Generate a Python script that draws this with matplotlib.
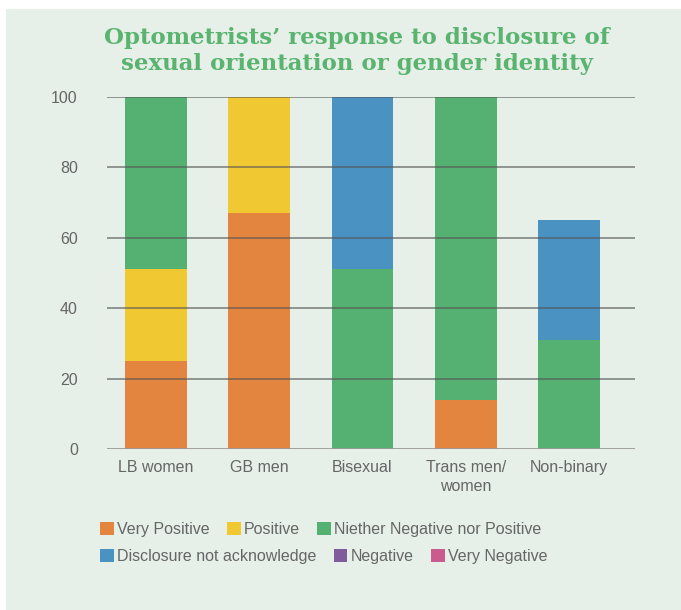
import matplotlib
matplotlib.use("Agg")
import matplotlib.pyplot as plt
from matplotlib.patches import Rectangle

categories = ["LB women", "GB men", "Bisexual", "Trans men/\nwomen", "Non-binary"]
series_names = ["Very Positive", "Positive", "Niether Negative nor Positive",
                "Disclosure not acknowledge", "Negative", "Very Negative"]
very_positive = [25, 67, 0, 14, 0]
positive = [26, 33, 0, 0, 0]
neither = [49, 0, 51, 86, 31]
not_acknowledged = [0, 0, 49, 0, 34]
negative = [0, 0, 0, 0, 0]
very_negative = [0, 0, 0, 0, 0]
yticks = [0, 20, 40, 60, 80, 100]

colors = ["#e3843f", "#f0c832", "#55b172", "#4a92c2", "#7f5b9c", "#c95b8e"]
bg = "#e6efe8"
txt = "#666666"

fig = plt.figure(figsize=(6.81, 6.10), dpi=100)
fig.patch.set_facecolor("white")
fig.patches.append(Rectangle((6/681, 0), 1, 1 - 9/610, transform=fig.transFigure,
                             facecolor=bg, edgecolor="none", zorder=-10))

ax = fig.add_axes([107/681, 1 - 449/610, (635 - 107)/681, (449 - 97)/610])
ax.set_facecolor("none")

x = list(range(len(categories)))
data = [very_positive, positive, neither, not_acknowledged, negative, very_negative]
bottom = [0] * len(categories)
handles = []
for name, vals, c in zip(series_names, data, colors):
    b = ax.bar(x, vals, 0.6, bottom=bottom, color=c, label=name, zorder=2)
    handles.append(b)
    bottom = [bo + v for bo, v in zip(bottom, vals)]

ax.set_ylim(0, 100)
ax.set_xlim(-0.475, 4.64)
ax.set_yticks(yticks)
for t in yticks[1:]:
    ax.axhline(t, color="#555555", lw=1.1, alpha=0.75, zorder=3)
ax.axhline(0, color="#999999", lw=2, zorder=3)

for s in ax.spines.values():
    s.set_visible(False)
ax.tick_params(axis="both", length=0, colors=txt, labelsize=11.5)
ax.tick_params(axis="y", pad=21)
ax.tick_params(axis="x", pad=8)
ax.set_xticks(x)
ax.set_xticklabels(categories, fontfamily="Liberation Sans", linespacing=1.3)
for lab in ax.get_yticklabels():
    lab.set_fontfamily("Liberation Sans")
    lab.set_horizontalalignment("right")

fig.text(357/681, 1 - 51/610, "Optometrists’ response to disclosure of\nsexual orientation or gender identity",
         ha="center", va="center", fontsize=16.5, fontweight="bold", fontfamily="DejaVu Serif",
         color="#5ab46f", linespacing=1.25)

leg_kw = dict(frameon=False, ncol=3, handlelength=0.85, handleheight=0.85, handletextpad=0.2,
              columnspacing=1.1, borderaxespad=0, borderpad=0,
              prop={"family": "Liberation Sans", "size": 11.5}, labelcolor=txt)
l1 = fig.legend(handles[:3], series_names[:3], loc="upper left",
                bbox_to_anchor=(100/681, 1 - 522/610), **leg_kw)
l2 = fig.legend(handles[3:], series_names[3:], loc="upper left",
                bbox_to_anchor=(100/681, 1 - 549/610), **leg_kw)

fig.savefig("out.png", dpi=100, facecolor="white")
